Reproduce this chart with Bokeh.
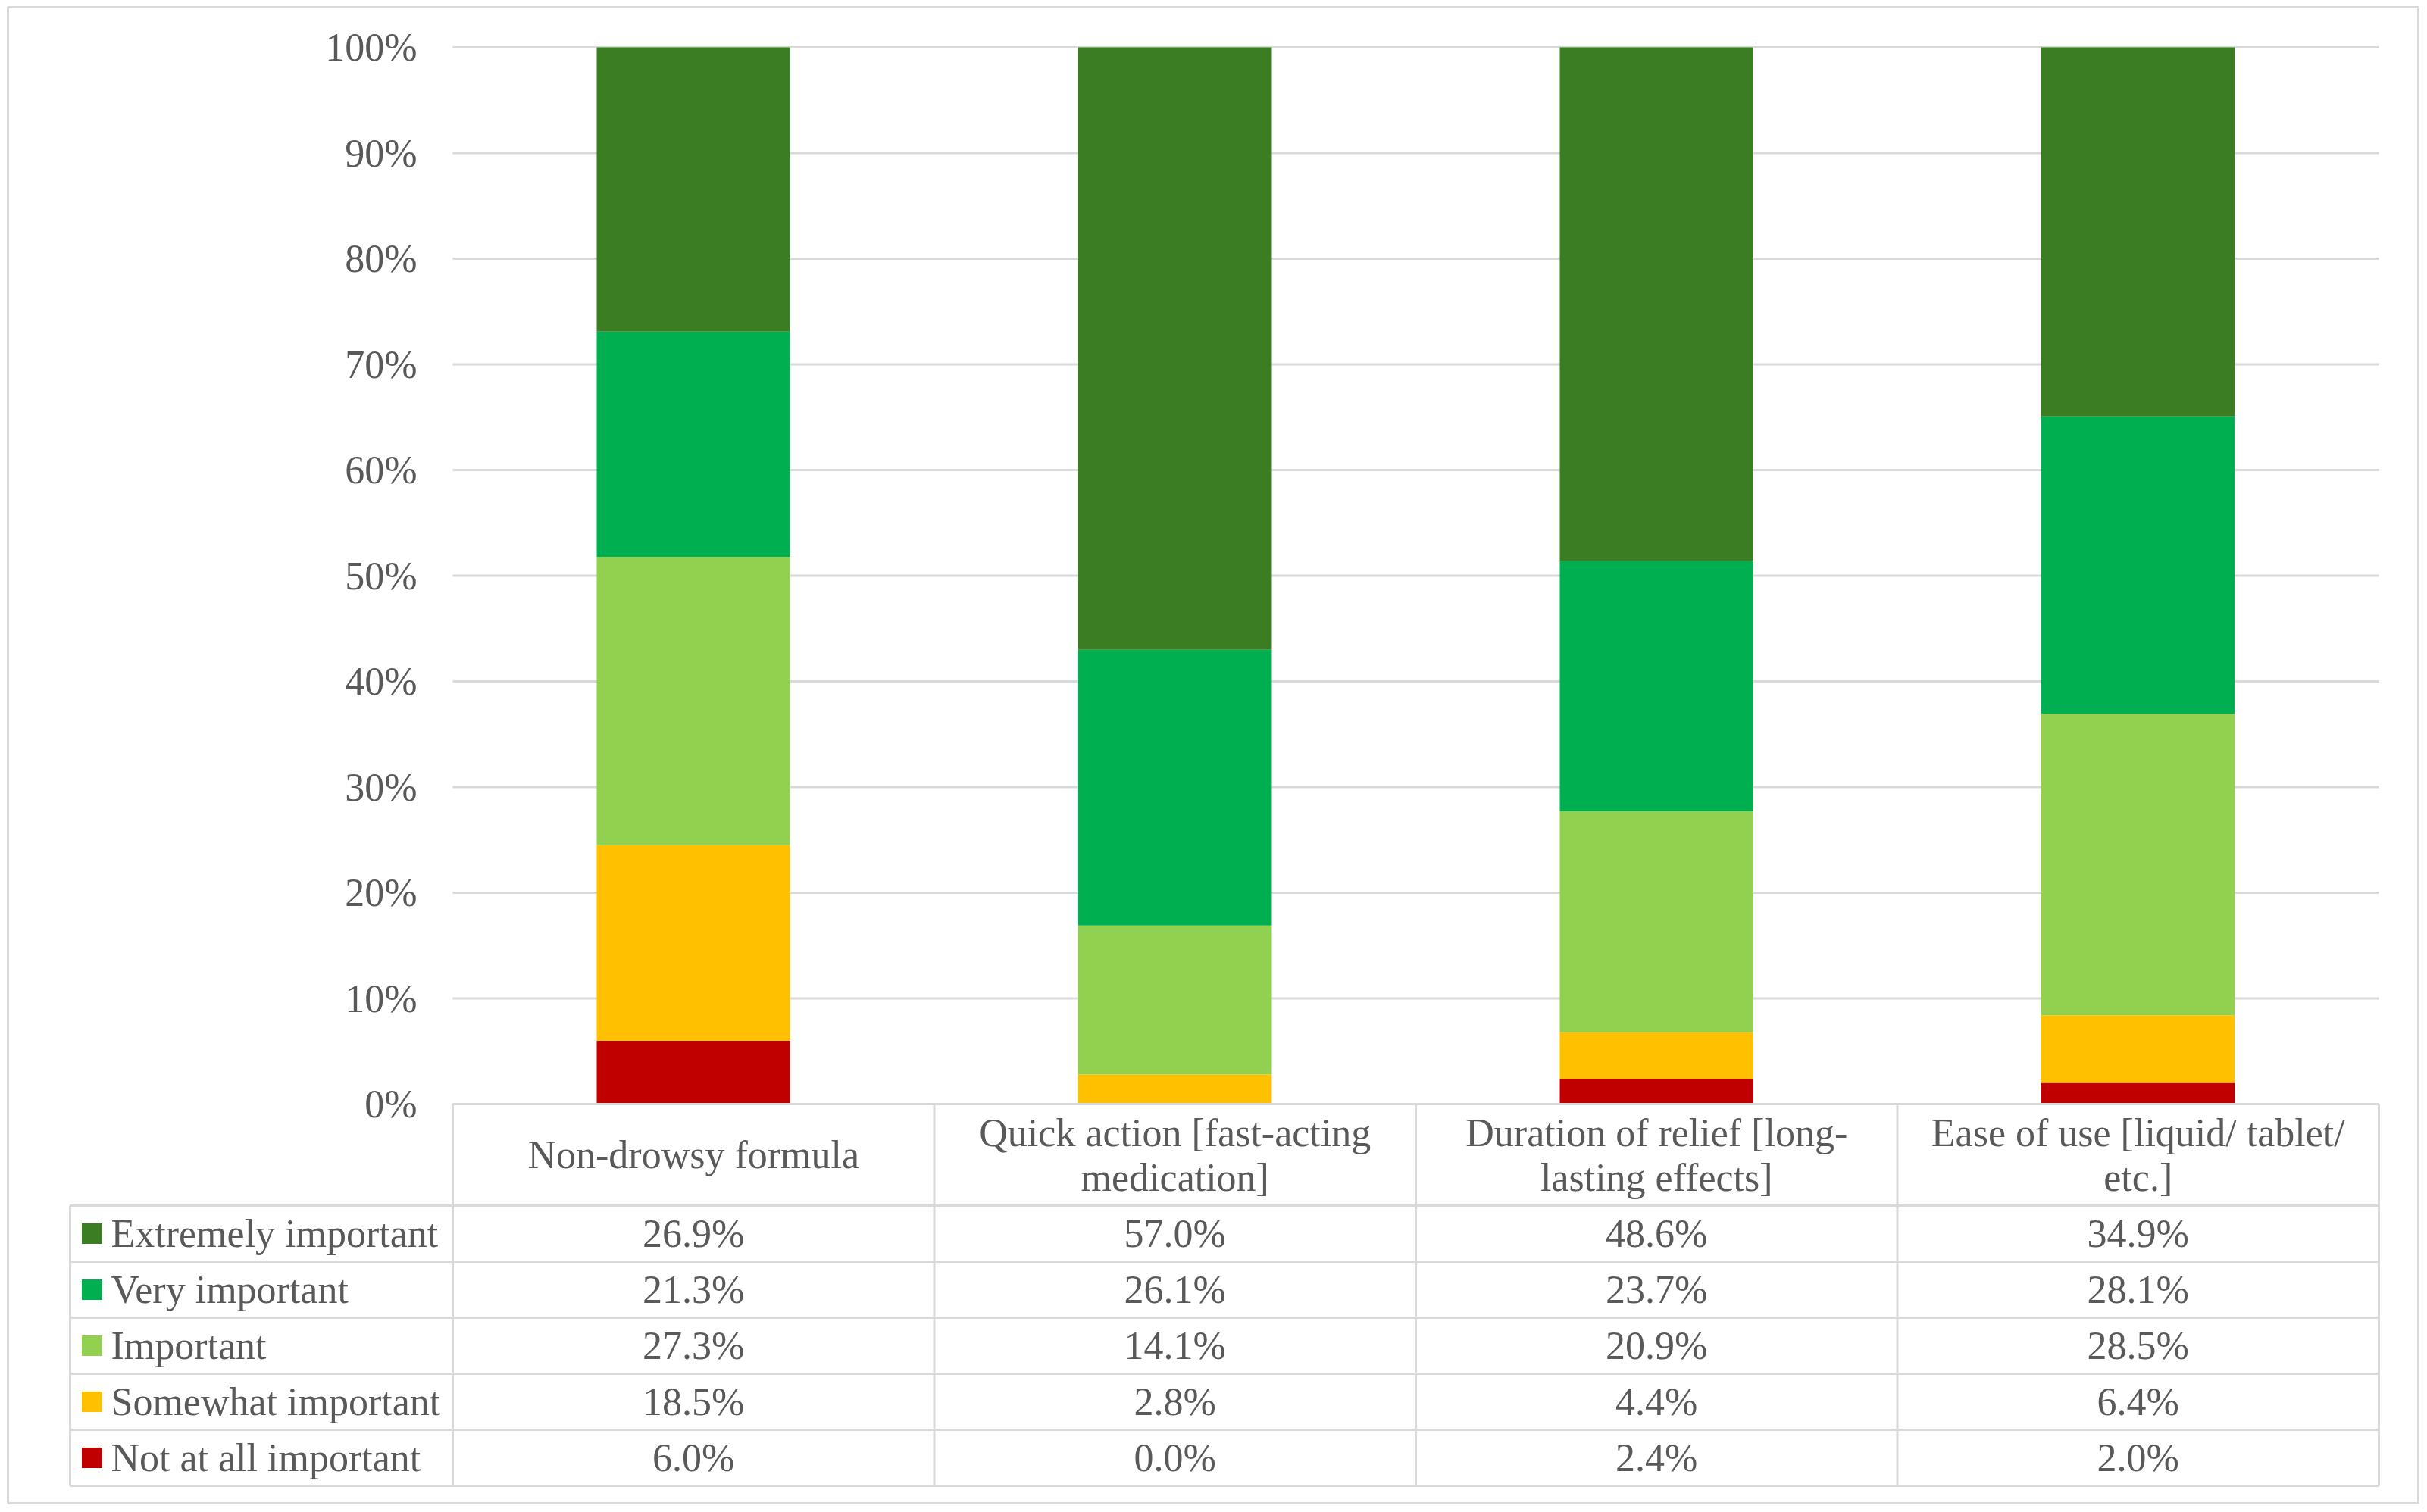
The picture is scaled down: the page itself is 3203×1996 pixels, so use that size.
import numpy as np
from bokeh.plotting import figure
from bokeh.models import Range1d
from bokeh.core.properties import value
from bokeh.embed import file_html
from bokeh.resources import INLINE

# ---- data ----
categories = ["Non-drowsy formula",
              "Quick action [fast-acting medication]",
              "Duration of relief [long-lasting effects]",
              "Ease of use [liquid/ tablet/ etc.]"]
header_lines = [["Non-drowsy formula"],
                ["Quick action [fast-acting", "medication]"],
                ["Duration of relief [long-", "lasting effects]"],
                ["Ease of use [liquid/ tablet/", "etc.]"]]
series = ["Extremely important", "Very important", "Important",
          "Somewhat important", "Not at all important"]
extremely = [26.9, 57.0, 48.6, 34.9]
very = [21.3, 26.1, 23.7, 28.1]
important = [27.3, 14.1, 20.9, 28.5]
somewhat = [18.5, 2.8, 4.4, 6.4]
not_at_all = [6.0, 0.0, 2.4, 2.0]
colors = ["#3b7d23", "#00b050", "#92d050", "#ffc000", "#c00000"]
y_ticks = [0, 10, 20, 30, 40, 50, 60, 70, 80, 90, 100]
y_tick_labels = [f"{t}%" for t in y_ticks]

# ---- layout helpers (page pixel -> data) ----
X0, XU = 597.0, 635.5
Y0, YU = 1457.0, 13.95
def px_x(px):
    return (px - X0) / XU
def px_y(py):
    return (Y0 - py) / YU

FL, FR, FT, FB = 10, 3191, 9, 1984   # frame edges in page pixels
W, H = 3200, 1994
FONT = value("Liberation Serif")
TXT = "#595959"
GRID = "#d9d9d9"
FS = "52px"

p = figure(width=W, height=H, x_range=Range1d(px_x(FL), px_x(FR)),
           y_range=Range1d(px_y(FB), px_y(FT)),
           output_backend="svg", toolbar_location=None,
           min_border_left=FL, min_border_right=W - FR,
           min_border_top=FT, min_border_bottom=H - FB,
           x_axis_location=None, y_axis_location=None)
p.grid.visible = False
p.outline_line_color = GRID
p.outline_line_width = 3
p.background_fill_color = "white"

# gridlines
n = len(categories)
p.segment(x0=[0] * len(y_ticks), x1=[n] * len(y_ticks), y0=y_ticks, y1=y_ticks,
          line_color=GRID, line_width=3)
# y tick labels
p.text(x=[px_x(550)] * len(y_ticks), y=y_ticks, text=y_tick_labels,
       text_font=FONT, text_font_size=FS, text_color=TXT,
       text_align="right", text_baseline="middle")

# stacked bars (bottom -> top), normalized as 100% stacked
stack = np.array([not_at_all, somewhat, important, very, extremely], dtype=float)
stack = stack / stack.sum(axis=0) * 100.0
stack_colors = colors[::-1]
tops = np.cumsum(stack, axis=0)
bottoms = tops - stack
xc = np.arange(n) + 0.5
for i in range(stack.shape[0]):
    p.vbar(x=xc, width=0.402, bottom=bottoms[i], top=tops[i],
           fill_color=stack_colors[i], line_color=None)

# ---- data table ----
row_edges_px = [1591, 1665, 1739, 1813, 1887, 1961]
left_px = 92
row_edges = [px_y(v) for v in row_edges_px]
col_edges = list(range(n + 1))
top_y = px_y(1457)
# horizontal lines
p.segment(x0=[col_edges[0]], x1=[col_edges[-1]], y0=[top_y], y1=[top_y],
          line_color=GRID, line_width=3)
p.segment(x0=[px_x(left_px)] * len(row_edges), x1=[col_edges[-1]] * len(row_edges),
          y0=row_edges, y1=row_edges, line_color=GRID, line_width=3)
# vertical lines
p.segment(x0=[px_x(left_px)], x1=[px_x(left_px)], y0=[row_edges[0]], y1=[row_edges[-1]],
          line_color=GRID, line_width=3)
p.segment(x0=col_edges, x1=col_edges, y0=[top_y] * len(col_edges),
          y1=[row_edges[-1]] * len(col_edges), line_color=GRID, line_width=3)

# header labels
hx, hy, ht = [], [], []
header_mid = px_y((1457 + 1591) / 2)
line_gap = 59 / YU
for i, lines in enumerate(header_lines):
    k = len(lines)
    for j, s in enumerate(lines):
        hx.append(i + 0.5)
        hy.append(header_mid + ((k - 1) / 2 - j) * line_gap)
        ht.append(s)
p.text(x=hx, y=hy, text=ht, text_font=FONT, text_font_size=FS, text_color=TXT,
       text_align="center", text_baseline="middle")

# rows
rows_vals = [extremely, very, important, somewhat, not_at_all]
row_centers = [(row_edges[r] + row_edges[r + 1]) / 2 for r in range(len(series))]
p.scatter(x=[px_x(121)] * len(series), y=row_centers, marker="square", size=27,
          fill_color=colors, line_color=None)
p.text(x=[px_x(146)] * len(series), y=row_centers, text=series, text_font=FONT,
       text_font_size=FS, text_color=TXT, text_align="left", text_baseline="middle")
vx, vy, vt = [], [], []
for r, vals in enumerate(rows_vals):
    for i, v in enumerate(vals):
        vx.append(i + 0.5)
        vy.append(row_centers[r])
        vt.append(f"{v:.1f}%")
p.text(x=vx, y=vy, text=vt, text_font=FONT, text_font_size=FS, text_color=TXT,
       text_align="center", text_baseline="middle")

open("out.html", "w").write(file_html(p, INLINE))
